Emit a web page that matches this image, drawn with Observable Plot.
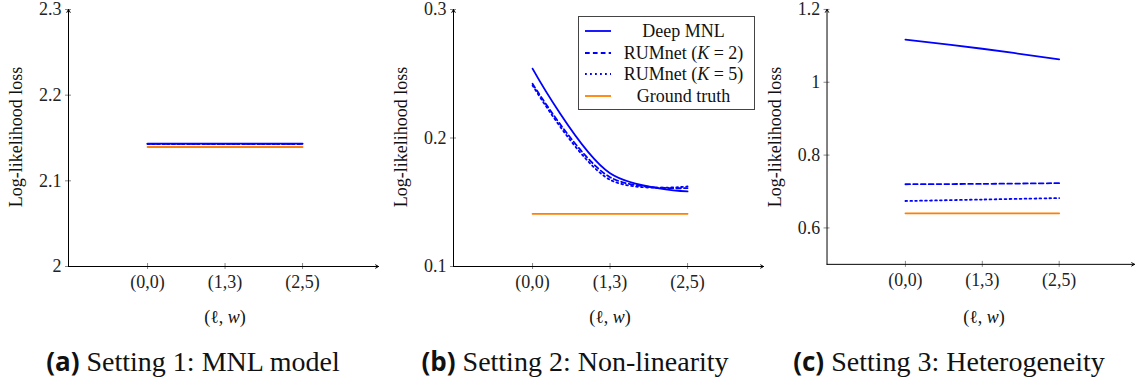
<!DOCTYPE html>
<html><head><meta charset="utf-8">
<script src="https://cdn.jsdelivr.net/npm/d3@7"></script>
<script src="https://cdn.jsdelivr.net/npm/@observablehq/plot@0.6"></script>
<style>
body{margin:0;background:#fff;}
#root{position:relative;width:1138px;height:381px;overflow:hidden;font-family:"Liberation Serif",serif;color:#111;}
.panel{position:absolute;top:0;}
.panel svg{overflow:visible;}
.ylab{position:absolute;transform:translate(-50%,-50%) rotate(-90deg);white-space:nowrap;font-size:18px;}
.xlab{position:absolute;transform:translate(-50%,-50%);font-size:18px;white-space:nowrap;}
.cap{position:absolute;transform:translate(-50%,-50%);font-size:28px;white-space:nowrap;}
.cap b{font-family:"Open Sans",sans-serif;font-weight:700;font-size:26px;}
.legend{position:absolute;border:1px solid #444;background:#fff;box-sizing:border-box;}
.legend .row{position:absolute;left:0;right:0;height:20px;font-size:18px;}
.legend .row svg{position:absolute;left:5px;top:4px;}
.legend .row span{position:absolute;left:34px;right:0;text-align:center;top:0;line-height:20px;}
</style>
</head><body>
<div id="root"></div>
<script>
// ---- data ----
const settings = ["(0,0)", "(1,3)", "(2,5)"];
const seriesNames = ["Deep MNL", "RUMnet (K = 2)", "RUMnet (K = 5)", "Ground truth"];

const a_deep = [2.1435, 2.1435, 2.1435];
const a_k2 = [2.1432, 2.1432, 2.1432];
const a_k5 = [2.1430, 2.1430, 2.1430];
const a_gt = [2.1395, 2.1395, 2.1395];
const a_ticks = [2, 2.1, 2.2, 2.3];
const a_tickLabels = ["2", "2.1", "2.2", "2.3"];

const b_deep = [0.254, 0.1726, 0.1584];
const b_k2 = [0.2422, 0.1695, 0.1610];
const b_k5 = [0.2409, 0.1675, 0.1623];
const b_gt = [0.141, 0.141, 0.141];
const b_ticks = [0.1, 0.2, 0.3];
const b_tickLabels = ["0.1", "0.2", "0.3"];

const c_deep = [1.117, 1.092, 1.063];
const c_k2 = [0.720, 0.721, 0.723];
const c_k5 = [0.674, 0.678, 0.682];
const c_gt = [0.640, 0.640, 0.640];
const c_ticks = [0.6, 0.8, 1.0, 1.2];
const c_tickLabels = ["0.6", "0.8", "1", "1.2"];

const captions = [["(a)", "Setting 1: MNL model"], ["(b)", "Setting 2: Non-linearity"], ["(c)", "Setting 3: Heterogeneity"]];

// ---- styles ----
const BLUE = "#0000ff", ORANGE = "#ff8000";
const styles = [
  {stroke: BLUE, dash: null},
  {stroke: BLUE, dash: "4.7,3.2"},
  {stroke: BLUE, dash: "1.8,3.2"},
  {stroke: ORANGE, dash: null}
];

const panels = [
  {left: 8, series: [a_deep, a_k2, a_k5, a_gt], domain: [2, 2.3], ticks: a_ticks, labels: a_tickLabels, curve: "linear", cap: 193},
  {left: 393, series: [b_deep, b_k2, b_k5, b_gt], domain: [0.1, 0.3], ticks: b_ticks, labels: b_tickLabels, curve: "catmull-rom", cap: 575, legend: true},
  {left: 767, series: [c_deep, c_k2, c_k5, c_gt], domain: [0.5, 1.2], ticks: c_ticks, labels: c_tickLabels, curve: "catmull-rom", cap: 949}
];

const root = document.getElementById("root");
const xDomain = [-1.02, 2.98];
const ML = 60, MT = 9, W = 374, H = 326, MR = 4;

panels.forEach((p, pi) => {
  const lineMarks = p.series.map((vals, si) => {
    const rows = vals.map((v, i) => ({i, v}));
    const st = styles[si];
    const opts = {x: "i", y: "v", stroke: st.stroke, strokeWidth: 1.8, curve: p.curve};
    if (st.dash) opts.strokeDasharray = st.dash;
    return Plot.line(rows, opts);
  });
  const axisRow = [{x1: xDomain[0], x2: xDomain[1], y1: p.domain[0], y2: p.domain[0]}];
  const axisCol = [{x1: xDomain[0], x2: xDomain[0], y1: p.domain[0], y2: p.domain[1]}];
  const svg = Plot.plot({
    width: W, height: H, marginLeft: ML, marginRight: MR, marginTop: MT, marginBottom: H - 266,
    style: {fontFamily: "'Liberation Serif', serif", fontSize: "18px", background: "transparent", overflow: "visible"},
    x: {domain: xDomain, axis: null},
    y: {domain: p.domain, axis: null},
    marks: [
      Plot.axisX({ticks: [0, 1, 2], tickFormat: i => settings[i], tickSize: 3, tickPadding: 6, stroke: "#888", fill: "#222", label: null}),
      Plot.axisX({ticks: [0, 1, 2], tickFormat: () => "", tickSize: -3, stroke: "#888", label: null}),
      Plot.axisY({ticks: p.ticks, tickFormat: d => p.labels[p.ticks.indexOf(d)], tickSize: 3, tickPadding: 4, stroke: "#888", fill: "#222", label: null}),
      Plot.axisY({ticks: p.ticks, tickFormat: () => "", tickSize: -3, stroke: "#888", label: null}),
      Plot.arrow(axisRow, {x1: "x1", x2: "x2", y1: "y1", y2: "y2", stroke: "#000", strokeWidth: 1, headLength: 5}),
      Plot.arrow(axisCol, {x1: "x1", x2: "x2", y1: "y1", y2: "y2", stroke: "#000", strokeWidth: 1, headLength: 5}),
      ...lineMarks
    ]
  });
  const div = document.createElement("div");
  div.className = "panel";
  div.style.left = p.left + "px";
  div.appendChild(svg);
  root.appendChild(div);

  const yl = document.createElement("div");
  yl.className = "ylab";
  yl.style.left = (p.left + ML - 52) + "px";
  yl.style.top = "137px";
  yl.textContent = "Log-likelihood loss";
  root.appendChild(yl);

  const xl = document.createElement("div");
  xl.className = "xlab";
  xl.style.left = (p.left + ML + 157) + "px";
  xl.style.top = "317px";
  xl.innerHTML = "(ℓ, <i>w</i>)";
  root.appendChild(xl);

  const cap = document.createElement("div");
  cap.className = "cap";
  cap.style.left = p.cap + "px";
  cap.style.top = "361px";
  cap.innerHTML = "<b>" + captions[pi][0] + "</b> " + captions[pi][1];
  root.appendChild(cap);

  if (p.legend) {
    const lg = document.createElement("div");
    lg.className = "legend";
    lg.style.left = "578px"; lg.style.top = "16px"; lg.style.width = "177px"; lg.style.height = "94px";
    seriesNames.forEach((name, si) => {
      const st = styles[si];
      const row = document.createElement("div");
      row.className = "row";
      row.style.top = (4 + si * 21.7) + "px";
      const label = name.replace(/K = (\d)/, "<i>K</i> = $1");
      row.innerHTML = `<svg width="28" height="12"><line x1="1" x2="27" y1="6" y2="6" stroke="${st.stroke}" stroke-width="1.8" ${st.dash ? `stroke-dasharray="${st.dash}"` : ""}/></svg><span>${label}</span>`;
      lg.appendChild(row);
    });
    root.appendChild(lg);
  }
});
</script>
</body></html>
